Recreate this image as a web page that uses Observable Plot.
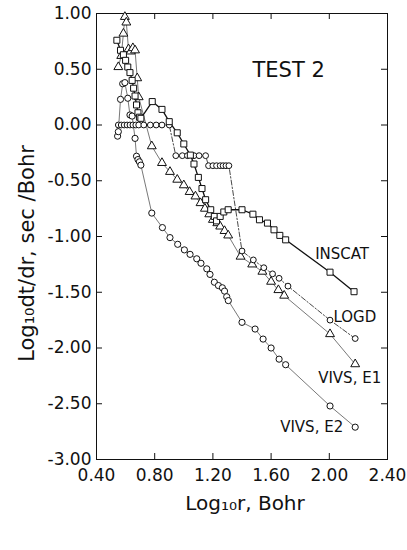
<!DOCTYPE html>
<html><head><meta charset="utf-8">
<script src="https://cdn.jsdelivr.net/npm/d3@7"></script>
<script src="https://cdn.jsdelivr.net/npm/@observablehq/plot@0.6"></script>
<style>body{margin:0;background:#fff}</style>
</head><body><div id="chart"></div>
<script>
const xTicks = [0.4, 0.8, 1.2, 1.6, 2.0, 2.4];
const yTicks = [1, 0.5, 0, -0.5, -1, -1.5, -2, -2.5, -3];

const inscatX = [0.54, 0.565, 0.585, 0.60, 0.615, 0.63, 0.645, 0.655, 0.665, 0.675, 0.685, 0.695, 0.705, 0.783, 0.85, 0.90, 0.955, 1.00, 1.045, 1.07, 1.10, 1.125, 1.15, 1.185, 1.21, 1.225, 1.25, 1.275, 1.305, 1.40, 1.475, 1.52, 1.575, 1.62, 1.66, 1.70, 2.005, 2.17];
const inscatY = [0.76, 0.67, 0.63, 0.58, 0.52, 0.47, 0.40, 0.33, 0.26, 0.18, 0.11, 0.07, 0.06, 0.21, 0.14, 0.03, -0.07, -0.17, -0.27, -0.35, -0.47, -0.57, -0.67, -0.76, -0.82, -0.86, -0.82, -0.78, -0.76, -0.76, -0.80, -0.85, -0.88, -0.94, -0.99, -1.03, -1.32, -1.495];

const logdX = [0.55, 0.57, 0.59, 0.61, 0.63, 0.65, 0.67, 0.69, 0.725, 0.77, 0.81, 0.85, 0.90, 0.945, 0.99, 1.025, 1.07, 1.105, 1.15, 1.17, 1.20, 1.225, 1.25, 1.27, 1.29, 1.31, 1.40, 1.478, 1.55, 1.61, 1.655, 1.716, 2.005, 2.178];
const logdY = [0, 0, 0, 0, 0, 0, 0, 0, 0, 0, 0, 0, 0, -0.275, -0.275, -0.275, -0.275, -0.275, -0.275, -0.365, -0.365, -0.365, -0.365, -0.365, -0.365, -0.365, -1.13, -1.21, -1.28, -1.335, -1.375, -1.445, -1.75, -1.915];

const e1X = [0.55, 0.57, 0.585, 0.595, 0.605, 0.62, 0.635, 0.65, 0.665, 0.68, 0.69, 0.78, 0.85, 0.905, 0.955, 1.0, 1.04, 1.08, 1.115, 1.145, 1.175, 1.20, 1.23, 1.25, 1.28, 1.305, 1.39, 1.47, 1.54, 1.60, 1.65, 1.69, 2.005, 2.178];
const e1Y = [0.52, 0.62, 0.82, 0.97, 0.92, 0.68, 0.66, 0.69, 0.67, 0.42, 0.25, -0.19, -0.34, -0.42, -0.49, -0.54, -0.60, -0.64, -0.70, -0.75, -0.80, -0.85, -0.88, -0.91, -0.95, -0.99, -1.18, -1.25, -1.315, -1.405, -1.48, -1.53, -1.875, -2.145];

const e2X = [0.545, 0.55, 0.565, 0.58, 0.595, 0.615, 0.63, 0.645, 0.665, 0.675, 0.685, 0.695, 0.705, 0.78, 0.853, 0.905, 0.958, 1.004, 1.043, 1.089, 1.118, 1.158, 1.18, 1.21, 1.238, 1.265, 1.28, 1.295, 1.306, 1.40, 1.49, 1.545, 1.60, 1.655, 1.70, 2.005, 2.178];
const e2Y = [-0.10, -0.06, 0.23, 0.37, 0.38, 0.24, 0.09, 0.08, -0.12, -0.28, -0.31, -0.33, -0.36, -0.79, -0.92, -1.01, -1.07, -1.12, -1.16, -1.20, -1.24, -1.29, -1.34, -1.41, -1.44, -1.46, -1.49, -1.54, -1.575, -1.77, -1.83, -1.92, -2.00, -2.10, -2.15, -2.52, -2.71];

const seriesNames = ["INSCAT", "LOGD", "VIVS, E1", "VIVS, E2"];

const rows = (name, xs, ys) => xs.map((x, i) => ({series: name, x, y: ys[i]}));
const inscat = rows(seriesNames[0], inscatX, inscatY);
const logd = rows(seriesNames[1], logdX, logdY);
const e1 = rows(seriesNames[2], e1X, e1Y);
const e2 = rows(seriesNames[3], e2X, e2Y);

const W = 407, H = 550, ML = 96, MR = 20, MT = 13, MB = 91;
const FW = W - ML - MR, FH = H - MT - MB;
const fmt = d => d.toFixed(2);
const ink = "#111";

const chart = Plot.plot({
  width: W, height: H,
  marginLeft: ML, marginRight: MR, marginTop: MT, marginBottom: MB,
  style: {fontFamily: "DejaVu Sans", fontSize: "16px", color: ink, background: "#fff"},
  x: {domain: [0.4, 2.4], label: null},
  y: {domain: [-3, 1], label: null},
  marks: [
    Plot.axisX(xTicks, {tickSize: 0, tickPadding: 9, tickFormat: fmt, fontSize: 17, fill: ink}),
    Plot.axisY(yTicks, {tickSize: 0, tickPadding: 5, tickFormat: fmt, fontSize: 17, fill: ink}),
    Plot.tickX(xTicks, {x: d => d, insetTop: FH - 6, stroke: ink}),
    Plot.tickX(xTicks, {x: d => d, insetBottom: FH - 6, stroke: ink}),
    Plot.tickY(yTicks, {y: d => d, insetRight: FW - 6, stroke: ink}),
    Plot.tickY(yTicks, {y: d => d, insetLeft: FW - 6, stroke: ink}),
    Plot.frame({stroke: ink, strokeWidth: 1}),
    Plot.line(e2, {x: "x", y: "y", stroke: "#555", strokeWidth: 0.8}),
    Plot.line(e1, {x: "x", y: "y", stroke: "#555", strokeWidth: 0.8}),
    Plot.line(logd, {x: "x", y: "y", stroke: "#333", strokeWidth: 0.9, strokeDasharray: "5,2,1.5,2"}),
    Plot.line(inscat, {x: "x", y: "y", stroke: ink, strokeWidth: 1.3}),
    Plot.dot(e2, {x: "x", y: "y", symbol: "circle", r: 3.1, fill: "white", stroke: ink, strokeWidth: 1}),
    Plot.dot(e1, {x: "x", y: "y", symbol: "triangle", r: 3.3, fill: "white", stroke: ink, strokeWidth: 1}),
    Plot.dot(logd, {x: "x", y: "y", symbol: "circle", r: 2.9, fill: "white", stroke: ink, strokeWidth: 1}),
    Plot.dot(inscat, {x: "x", y: "y", symbol: "square", r: 3.4, fill: "white", stroke: ink, strokeWidth: 1}),
    Plot.text([inscat.at(-1)], {x: "x", y: "y", text: "series", textAnchor: "end", dx: 15, dy: -38, fontSize: 15, fill: ink}),
    Plot.text([logd.at(-1)], {x: "x", y: "y", text: "series", textAnchor: "end", dx: 21, dy: -21, fontSize: 15, fill: ink}),
    Plot.text([e1.at(-1)], {x: "x", y: "y", text: "series", textAnchor: "end", dx: 26, dy: 14, fontSize: 15, fill: ink}),
    Plot.text([e2.at(-1)], {x: "x", y: "y", text: "series", textAnchor: "end", dx: -12, dy: 0, fontSize: 15, fill: ink}),
    Plot.text(["TEST 2"], {frameAnchor: "top-left", text: d => d, dx: 156, dy: 57, textAnchor: "start", lineAnchor: "middle", fontSize: 21, fill: ink}),
    Plot.text(["Log\u2081\u2080dt/dr, sec /Bohr"], {frameAnchor: "left", text: d => d, dx: -69, dy: 17, rotate: -90, textAnchor: "middle", lineAnchor: "middle", fontSize: 21, fill: ink}),
    Plot.text(["Log\u2081\u2080r, Bohr"], {frameAnchor: "bottom", text: d => d, dx: 3, dy: 44, textAnchor: "middle", lineAnchor: "middle", fontSize: 20, fill: ink})
  ]
});
document.getElementById("chart").appendChild(chart);
</script>
</body></html>
